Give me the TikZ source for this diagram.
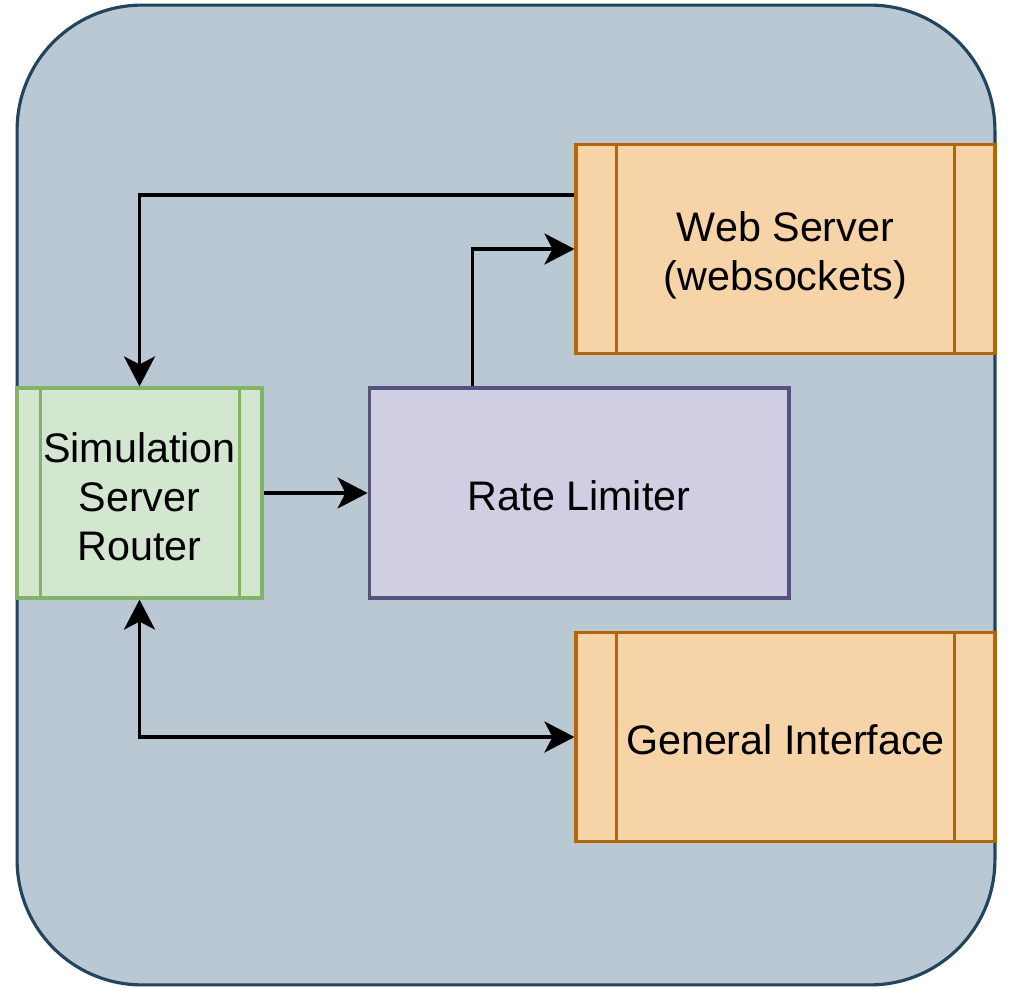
\documentclass[tikz,border=0pt]{standalone}
\usepackage{fontspec}
\setmainfont{Liberation Sans}
\usepackage{tikz}
\usetikzlibrary{positioning,arrows.meta}
\definecolor{outerfill}{RGB}{186,200,211}
\definecolor{outerline}{RGB}{ 35, 68, 93}
\definecolor{srvfill}{RGB}{246,212,168}
\definecolor{srvline}{RGB}{180,101,  4}
\definecolor{rtrfill}{RGB}{210,230,208}
\definecolor{rtrline}{RGB}{130,179,102}
\definecolor{limfill}{RGB}{208,206,226}
\definecolor{limline}{RGB}{ 86, 81,126}

\begin{document}
\begin{tikzpicture}[
    x=0.02cm,y=-0.02cm,
    font=\fontsize{23.5}{28}\selectfont,
    outer/.style={draw=outerline,fill=outerfill,line width=1.8pt,rounded corners=2.5cm,
                  minimum width=19.56cm,minimum height=19.6cm},
    srv/.style={draw=srvline,fill=srvfill,line width=1.8pt,
                minimum width=8.38cm,minimum height=4.18cm,align=center},
    rtr/.style={draw=rtrline,fill=rtrfill,line width=1.8pt,
                minimum width=4.9cm,minimum height=4.2cm,align=center,inner sep=0pt},
    lim/.style={draw=limline,fill=limfill,line width=1.8pt,
                minimum width=8.4cm,minimum height=4.2cm,align=center},
    bar/.style={line width=1.8pt},
    flow/.style={-{Stealth[length=0.6cm,width=0.62cm,inset=0.16cm]},line width=2pt},
    both/.style={{Stealth[length=0.6cm,width=0.62cm,inset=0.16cm]}-{Stealth[length=0.6cm,width=0.62cm,inset=0.16cm]},line width=2pt},
]
\useasboundingbox (0,0) rectangle (1010,989);

% --- container ---
\node[outer] (frame) at (506,495) {};

% --- blocks ---
\node[rtr] (router) at (139.5,493) {\rule{0pt}{21.5pt}Simulation\\Server\\Router};
\node[lim,right=2.08cm of router] (limiter) {\rule{0pt}{20.5pt}Rate Limiter};
\node[srv] (web) at (785.5,249) {\rule{0pt}{24.6pt}Web Server\\(websockets)};
\node[srv] (general) at (785.5,737) {\rule{0pt}{20.5pt}General Interface};

% side bars
\draw[rtrline,bar] ([xshift=0.5cm]router.north west) -- ([xshift=0.5cm]router.south west);
\draw[rtrline,bar] ([xshift=-0.48cm]router.north east) -- ([xshift=-0.48cm]router.south east);
\draw[srvline,bar] ([xshift=0.84cm]web.north west) -- ([xshift=0.84cm]web.south west);
\draw[srvline,bar] ([xshift=-0.84cm]web.north east) -- ([xshift=-0.84cm]web.south east);
\draw[srvline,bar] ([xshift=0.84cm]general.north west) -- ([xshift=0.84cm]general.south west);
\draw[srvline,bar] ([xshift=-0.84cm]general.north east) -- ([xshift=-0.84cm]general.south east);

% --- connectors ---
\draw[flow] ([yshift=-1.04cm]web.north west) -| (router.north);
\draw[flow] (router) -- (limiter);
\draw[flow] ([xshift=2.1cm]limiter.north west) |- (web.west);
\draw[both] (router.south) |- (general.west);
\end{tikzpicture}
\end{document}
